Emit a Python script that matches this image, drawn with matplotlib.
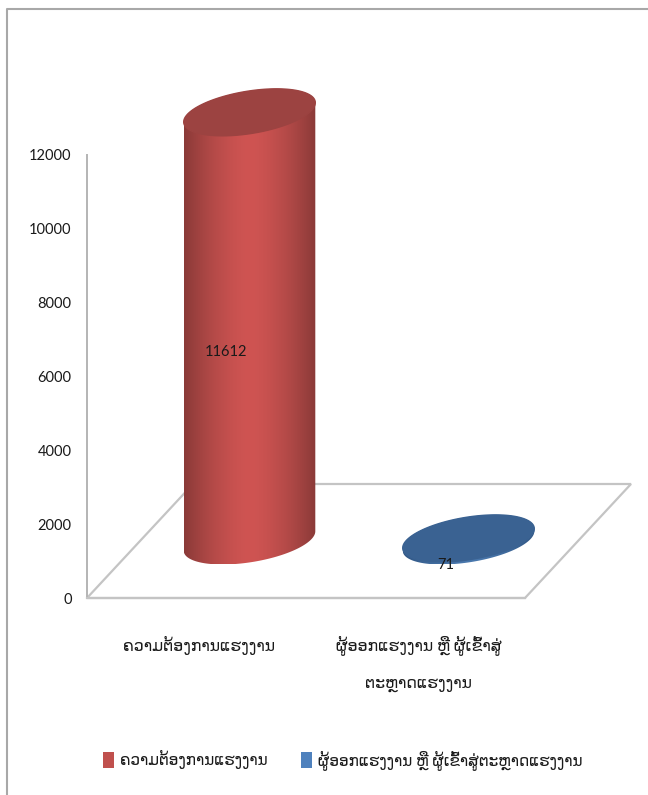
#!/usr/bin/env python3
import numpy as np
import matplotlib
matplotlib.use("Agg")
import matplotlib.pyplot as plt
from matplotlib.lines import Line2D
from matplotlib.patches import Patch, PathPatch, Polygon
from matplotlib.path import Path
from matplotlib.transforms import ScaledTranslation

plt.rcParams["font.family"] = ["Lato", "DejaVu Sans"]

# data
CATEGORIES = ["ຄວາມຕ້ອງການແຮງງານ", "ຜູ້ອອກແຮງງານ ຫຼື ຜູ້ເຂົ້າສູ່\nຕະຫຼາດແຮງງານ"]
LEGEND_LABELS = ["ຄວາມຕ້ອງການແຮງງານ", "ຜູ້ອອກແຮງງານ ຫຼື ຜູ້ເຂົ້າສູ່ຕະຫຼາດແຮງງານ"]
VALUES = [11612, 71]
Y_TICKS = [0, 2000, 4000, 6000, 8000, 10000, 12000]

# styles
SIDE_COLORS = [("#8a3a38", "#cf5452"), ("#2f5583", "#4a78ad")]
TOP_COLORS = ["#9c4341", "#3a6292"]
LEGEND_COLORS = ["#c0504d", "#4f81bd"]
LABEL_OFFSETS = [(30, -183), (30, 30)]

W, H = 648, 795
AX_L, AX_R, AX_T, AX_B = 87, 525, 155, 598

fig = plt.figure(figsize=(W / 100, H / 100), dpi=100)
ax = fig.add_axes([AX_L / W, 1 - AX_B / H, (AX_R - AX_L) / W, (AX_B - AX_T) / H])
ax.set_xlim(0, len(VALUES))
ax.set_ylim(0, 12000)

# pixel sizes -> data units
px_x = len(VALUES) / (AX_R - AX_L)
px_y = 12000 / (AX_B - AX_T)
DEPTH_X, DEPTH_Y = 106 * px_x, 114 * px_y

# floor of the 3d box
x0 = 0
x1 = len(VALUES)
floor = Polygon([(x0, 0), (x1, 0), (x1 + DEPTH_X, DEPTH_Y), (x0 + DEPTH_X, DEPTH_Y)],
                closed=True, fc="white", ec="#c4c4c4", lw=1.6, clip_on=False, zorder=1)
ax.add_patch(floor)


def ring(cx, cy, n=240):
    t = np.linspace(0, 2 * np.pi, n)
    return (cx + (60 * np.cos(t) + 27 * np.sin(t)) * px_x,
            cy + 23.5 * np.sin(t) * px_y)


for i, v in enumerate(VALUES):
    cx = i + 0.5 + DEPTH_X / 2
    cy = DEPTH_Y / 2
    bx, by = ring(cx, cy)
    tx, ty = ring(cx, cy + v)

    # body outline: lower half of the base ring, then upper half of the top ring
    left = np.argmin(bx)
    right = np.argmax(bx)
    low = np.r_[left:len(bx) - 1, 0:right + 1]
    up = np.arange(right, left + 1)
    verts = np.column_stack([np.r_[bx[low], tx[up]], np.r_[by[low], ty[up]]])
    clip = PathPatch(Path(np.vstack([verts, verts[0]]), closed=True), fc="none", ec="none",
                     clip_on=False, transform=ax.transData)
    ax.add_patch(clip)

    edge, mid = [np.array(matplotlib.colors.to_rgb(c)) for c in SIDE_COLORS[i]]
    s = np.abs(np.linspace(-1, 1, 200)) ** 1.6
    grad = (edge[None, :] * s[:, None] + mid[None, :] * (1 - s[:, None]))[None, :, :]
    im = ax.imshow(grad, extent=[bx.min(), bx.max(), by.min(), ty.max()], aspect="auto",
                   origin="lower", zorder=2)
    im.set_clip_box(fig.bbox)
    im.set_clip_path(clip)

    ax.fill(tx, ty, color=TOP_COLORS[i], zorder=3, clip_on=False)

ax.set_xlim(0, len(VALUES))
ax.set_ylim(0, 12000)

for i, v in enumerate(VALUES):
    ax.annotate(str(v), xy=(i + 0.5, v), xytext=LABEL_OFFSETS[i], textcoords="offset pixels",
                ha="center", va="center", fontsize=10.5, color="#1a1a1a", zorder=5,
                annotation_clip=False)

for side in ["top", "right"]:
    ax.spines[side].set_visible(False)
ax.spines["left"].set_color("#b4b4b4")
ax.spines["bottom"].set_color("#c4c4c4")
ax.spines["left"].set_linewidth(1.4)
ax.spines["bottom"].set_linewidth(1.6)
ax.patch.set_alpha(0)

ax.set_yticks(Y_TICKS)
ax.tick_params(axis="y", length=0, pad=11, labelsize=10.5, labelcolor="#1a1a1a")
ax.set_xticks([i + 0.5 for i in range(len(CATEGORIES))])
ax.set_xticklabels(CATEGORIES, fontsize=11.3, color="#1a1a1a", linespacing=2.9, va="top")
ax.tick_params(axis="x", length=0, pad=27)
shift = ScaledTranslation(3 / 100, 0, fig.dpi_scale_trans)
for lab in ax.get_xticklabels():
    lab.set_transform(lab.get_transform() + shift)

handles = [Patch(fc=c, ec="none") for c in LEGEND_COLORS]
fig.legend(handles, LEGEND_LABELS, loc="center", bbox_to_anchor=(343 / W, 1 - 760 / H),
           ncol=2, frameon=False, fontsize=11, handlelength=0.72, handleheight=1.25,
           handletextpad=0.4, columnspacing=2.2, labelcolor="#1a1a1a")

# frame left around the pasted picture: top and left only
frame_x = [7 / W, 7 / W, 1]
frame_y = [0, 1 - 9 / H, 1 - 9 / H]
fig.add_artist(Line2D(frame_x, frame_y, color="#a8a8a8", lw=1.5, transform=fig.transFigure))

fig.savefig("out.png", dpi=100)
